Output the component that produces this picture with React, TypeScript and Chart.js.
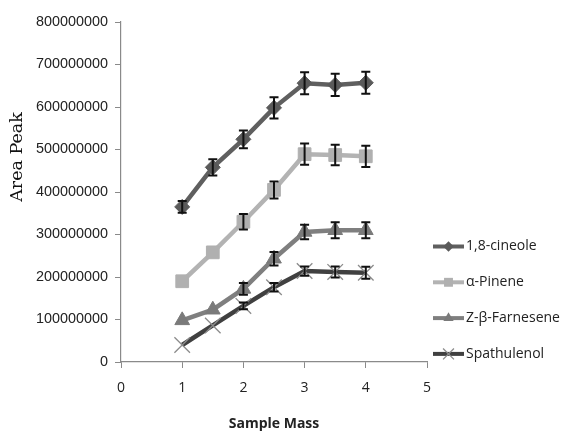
import React, { useEffect, useRef } from "react";
import { Chart, registerables } from "chart.js";

Chart.register(...registerables);

const xs = [1, 1.5, 2, 2.5, 3, 3.5, 4];
const seriesNames = ["1,8-cineole", "α-Pinene", "Z-β-Farnesene", "Spathulenol"];
const cineole = [365e6, 458e6, 524e6, 598e6, 656e6, 652e6, 657e6];
const cineoleErr = [14e6, 19e6, 21e6, 25e6, 26e6, 26e6, 26e6];
const pinene = [190e6, 258e6, 330e6, 405e6, 489e6, 487e6, 484e6];
const pineneErr = [0, 0, 18e6, 20e6, 25e6, 24e6, 25e6];
const farnesene = [98e6, 123e6, 172e6, 243e6, 306e6, 310e6, 310e6];
const farneseneErr = [0, 0, 14e6, 16e6, 17e6, 19e6, 19e6];
const spathulenol = [40e6, 86e6, 132e6, 176e6, 214e6, 212e6, 210e6];
const spathulenolErr = [0, 0, 8e6, 10e6, 11e6, 13e6, 14e6];
const xTicks = [0, 1, 2, 3, 4, 5];
const yMax = 800e6;
const yStep = 100e6;
const yTitle = "Area Peak";
const xTitle = "Sample Mass";

const lineColors = ["#5f5f5f", "#b3b3b3", "#7f7f7f", "#404040"];
const markerColors = ["#5a5a5a", "#b0b0b0", "#7a7a7a", "#8c8c8c"];
const markerStyles = ["rectRot", "rect", "triangle", "crossRot"];
const markerRadius = [7.5, 9, 8.5, 11];

const allValues = [cineole, pinene, farnesene, spathulenol];
const allErrs = [cineoleErr, pineneErr, farneseneErr, spathulenolErr];

const errorBarPlugin = {
  id: "errorBars",
  afterDatasetsDraw(chart: any) {
    const ctx = chart.ctx;
    const sx = chart.scales.x;
    const sy = chart.scales.y;
    ctx.save();
    ctx.strokeStyle = "#111";
    ctx.lineWidth = 2;
    allValues.forEach((vals, si) => {
      vals.forEach((v, i) => {
        const e = allErrs[si][i];
        if (!e) return;
        const px = sx.getPixelForValue(xs[i]);
        const top = sy.getPixelForValue(v + e);
        const bot = sy.getPixelForValue(v - e);
        ctx.beginPath();
        ctx.moveTo(px, top);
        ctx.lineTo(px, bot);
        ctx.moveTo(px - 4.5, top);
        ctx.lineTo(px + 4.5, top);
        ctx.moveTo(px - 4.5, bot);
        ctx.lineTo(px + 4.5, bot);
        ctx.stroke();
      });
    });
    ctx.restore();
  },
};

function drawMarker(ctx: CanvasRenderingContext2D, style: string, x: number, y: number, r: number) {
  ctx.beginPath();
  if (style === "rectRot") {
    ctx.moveTo(x - r, y);
    ctx.lineTo(x, y - r);
    ctx.lineTo(x + r, y);
    ctx.lineTo(x, y + r);
    ctx.closePath();
    ctx.fill();
  } else if (style === "rect") {
    const s = r * Math.SQRT1_2;
    ctx.rect(x - s, y - s, 2 * s, 2 * s);
    ctx.fill();
  } else if (style === "triangle") {
    ctx.moveTo(x, y - r);
    ctx.lineTo(x + r * 0.866, y + r * 0.5);
    ctx.lineTo(x - r * 0.866, y + r * 0.5);
    ctx.closePath();
    ctx.fill();
  } else {
    const c = r * Math.SQRT1_2;
    ctx.moveTo(x - c, y - c);
    ctx.lineTo(x + c, y + c);
    ctx.moveTo(x - c, y + c);
    ctx.lineTo(x + c, y - c);
    ctx.stroke();
  }
}

const legendPlugin = {
  id: "customLegend",
  afterDraw(chart: any) {
    const ctx = chart.ctx;
    const area = chart.chartArea;
    const x0 = area.right + 6;
    const yStart = 246.5;
    const step = 35.8;
    ctx.save();
    seriesNames.forEach((name, i) => {
      const y = yStart + i * step;
      ctx.strokeStyle = lineColors[i];
      ctx.lineWidth = 4;
      ctx.beginPath();
      ctx.moveTo(x0, y);
      ctx.lineTo(x0 + 31, y);
      ctx.stroke();
      ctx.fillStyle = markerColors[i];
      ctx.strokeStyle = markerColors[i];
      ctx.lineWidth = 1.3;
      drawMarker(ctx, markerStyles[i], x0 + 15.5, y, markerRadius[i] * 0.7);
      ctx.fillStyle = "#222";
      ctx.font = "14px 'Open Sans', sans-serif";
      ctx.textBaseline = "middle";
      ctx.textAlign = "left";
      ctx.fillText(name, x0 + 33, y);
    });
    ctx.translate(17, 157);
    ctx.rotate(-Math.PI / 2);
    ctx.fillStyle = "#111";
    ctx.font = "17.5px 'DejaVu Serif', serif";
    ctx.textAlign = "center";
    ctx.textBaseline = "middle";
    ctx.fillText(yTitle, 0, 0);
    ctx.restore();
  },
};

export default function App() {
  const ref = useRef<HTMLCanvasElement>(null);
  useEffect(() => {
    if (!ref.current) return;
    const datasets = allValues.map((vals, i) => ({
      label: seriesNames[i],
      data: vals.map((v, j) => ({ x: xs[j], y: v })),
      borderColor: lineColors[i],
      backgroundColor: markerColors[i],
      borderWidth: 4.5,
      pointStyle: markerStyles[i] as any,
      pointRadius: markerRadius[i],
      pointBackgroundColor: markerColors[i],
      pointBorderColor: markerColors[i],
      pointBorderWidth: i === 3 ? 1.3 : 1,
      tension: 0,
      fill: false,
    }));
    const chart = new Chart(ref.current, {
      type: "line",
      data: { datasets },
      options: {
        animation: false,
        responsive: false,
        layout: { padding: { top: 22, right: 134, left: 0, bottom: 0 } },
        plugins: { legend: { display: false }, tooltip: { enabled: false } },
        scales: {
          x: {
            type: "linear",
            min: 0,
            max: 5,
            afterBuildTicks: (s: any) => {
              s.ticks = xTicks.map((v) => ({ value: v }));
            },
            afterFit: (s: any) => {
              s.height = 70;
            },
            grid: { drawOnChartArea: false, drawTicks: true, tickLength: 6, color: "#8a8a8a" },
            border: { color: "#8a8a8a", width: 1.2 },
            ticks: {
              padding: 12,
              color: "#222",
              font: { family: "'Open Sans', sans-serif", size: 14 },
            },
            title: {
              display: true,
              text: xTitle,
              color: "#222",
              font: { family: "'Open Sans', sans-serif", size: 14, weight: "bold" },
              padding: { top: 15, bottom: 0 },
            },
          },
          y: {
            type: "linear",
            min: 0,
            max: yMax,
            ticks: {
              stepSize: yStep,
              padding: 7,
              color: "#222",
              font: { family: "'Liberation Sans', sans-serif", size: 14.4 },
              callback: (v: any) => String(v),
            },
            afterFit: (s: any) => {
              s.width = 121;
            },
            grid: { drawOnChartArea: false, drawTicks: true, tickLength: 6, color: "#8a8a8a" },
            border: { color: "#8a8a8a", width: 1.2 },
          },
        },
      },
      plugins: [errorBarPlugin, legendPlugin],
    } as any);
    return () => chart.destroy();
  }, []);
  return (
    <div style={{ position: "fixed", left: 0, top: 0, width: 561, height: 432, background: "#fff" }}>
      <canvas ref={ref} width={561} height={432} style={{ width: 561, height: 432 }} />
    </div>
  );
}
